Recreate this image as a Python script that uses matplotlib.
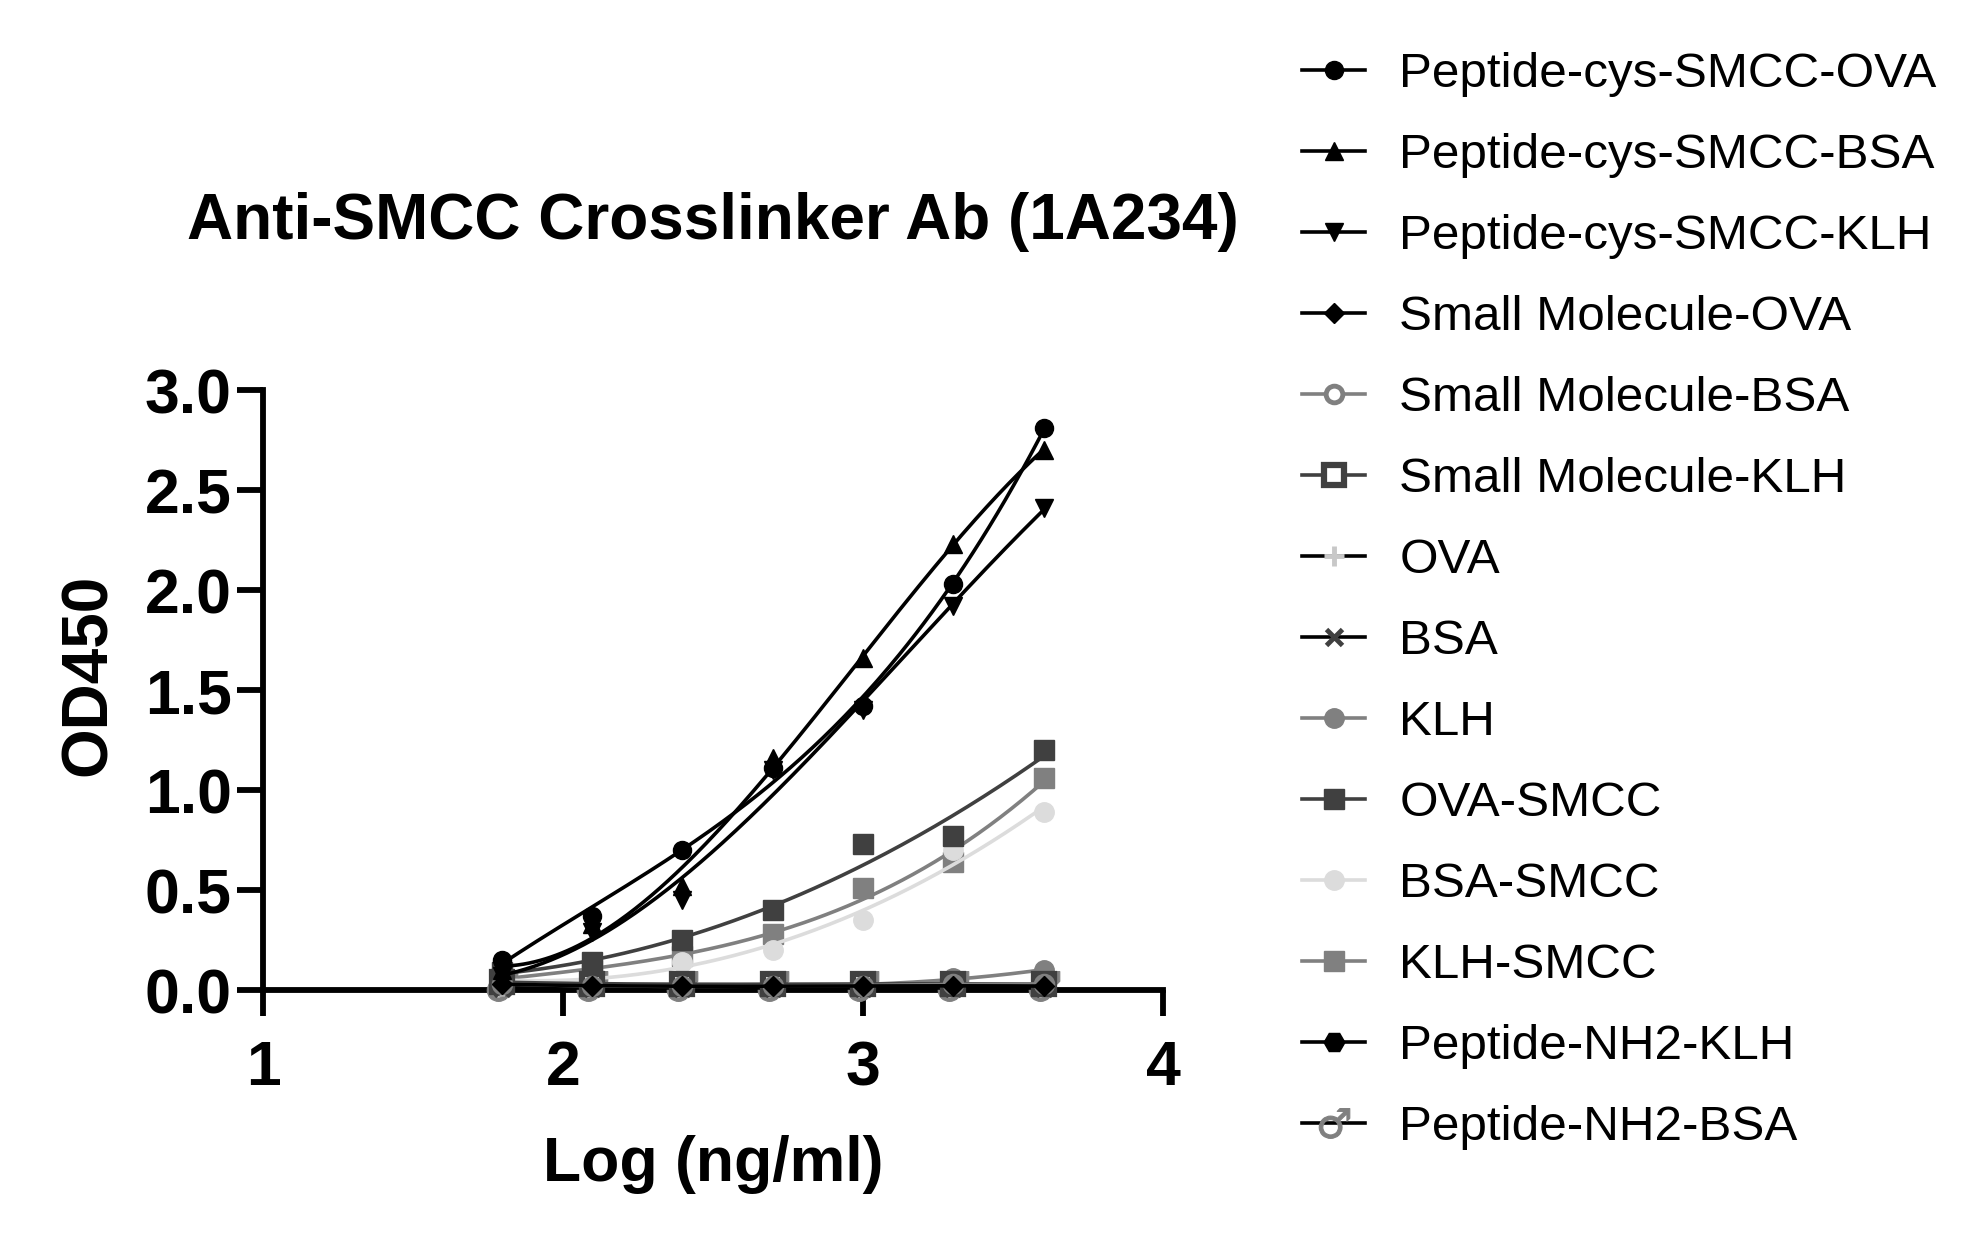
import numpy as np
import matplotlib
matplotlib.use("Agg")
import matplotlib.pyplot as plt
from matplotlib.lines import Line2D

plt.rcParams['font.family'] = ['Liberation Sans', 'DejaVu Sans']

# ---------------- data ----------------
concentration_ng_ml = [62.5, 125, 250, 500, 1000, 2000, 4000]
series_names = [
    "Peptide-cys-SMCC-OVA", "Peptide-cys-SMCC-BSA", "Peptide-cys-SMCC-KLH",
    "Small Molecule-OVA", "Small Molecule-BSA", "Small Molecule-KLH",
    "OVA", "BSA", "KLH", "OVA-SMCC", "BSA-SMCC", "KLH-SMCC",
    "Peptide-NH2-KLH", "Peptide-NH2-BSA",
]
pep_cys_smcc_ova = [0.15, 0.37, 0.70, 1.11, 1.42, 2.03, 2.81]
pep_cys_smcc_bsa = [0.10, 0.33, 0.52, 1.16, 1.66, 2.23, 2.70]
pep_cys_smcc_klh = [0.07, 0.29, 0.45, 1.10, 1.40, 1.92, 2.41]
small_mol_ova = [0.03, 0.02, 0.02, 0.02, 0.02, 0.02, 0.02]
small_mol_bsa = [0.03, 0.02, 0.02, 0.02, 0.02, 0.03, 0.03]
small_mol_klh = [0.04, 0.03, 0.03, 0.03, 0.03, 0.03, 0.03]
ova = [0.02, 0.02, 0.02, 0.02, 0.02, 0.02, 0.02]
bsa = [0.01, 0.01, 0.01, 0.01, 0.01, 0.01, 0.01]
klh = [0.02, 0.02, 0.02, 0.02, 0.02, 0.06, 0.10]
ova_smcc = [0.09, 0.14, 0.25, 0.40, 0.73, 0.77, 1.20]
bsa_smcc = [0.04, 0.07, 0.14, 0.20, 0.35, 0.70, 0.89]
klh_smcc = [0.06, 0.10, 0.17, 0.28, 0.51, 0.64, 1.06]
pep_nh2_klh = [0.02, 0.02, 0.02, 0.02, 0.02, 0.02, 0.02]
pep_nh2_bsa = [0.02, 0.02, 0.02, 0.02, 0.02, 0.02, 0.02]

all_values = [pep_cys_smcc_ova, pep_cys_smcc_bsa, pep_cys_smcc_klh,
              small_mol_ova, small_mol_bsa, small_mol_klh,
              ova, bsa, klh, ova_smcc, bsa_smcc, klh_smcc,
              pep_nh2_klh, pep_nh2_bsa]

x_ticks = [1, 2, 3, 4]
y_ticks = [0.0, 0.5, 1.0, 1.5, 2.0, 2.5, 3.0]

# ---------------- styles ----------------
DK = "#404040"
MG = "#808080"
LG = "#c8c8c8"
XLG = "#dcdcdc"
styles = [
    dict(marker='o', mfc='black', mec='black', ms=13, mew=1, lc='black'),
    dict(marker='^', mfc='black', mec='black', ms=13, mew=1, lc='black'),
    dict(marker='v', mfc='black', mec='black', ms=13, mew=1, lc='black'),
    dict(marker='D', mfc='black', mec='black', ms=10, mew=1, lc='black'),
    dict(marker='o', mfc='white', mec=MG, ms=12, mew=3.5, lc=MG),
    dict(marker='s', mfc='white', mec=DK, ms=14, mew=4.5, lc=DK),
    dict(marker='+', mfc=LG, mec=LG, ms=14, mew=3.5, lc='black'),
    dict(marker='x', mfc=DK, mec=DK, ms=12, mew=3.5, lc='black'),
    dict(marker='o', mfc=MG, mec=MG, ms=14, mew=1, lc=MG),
    dict(marker='s', mfc=DK, mec=DK, ms=15, mew=1, lc=DK),
    dict(marker='o', mfc=XLG, mec=XLG, ms=14, mew=1, lc=XLG),
    dict(marker='s', mfc=MG, mec=MG, ms=15, mew=1, lc=MG),
    dict(marker='H', mfc='black', mec='black', ms=15, mew=1, lc='black'),
    dict(marker='$\u2642$', mfc=MG, mec=MG, ms=22, mew=0.8, lc='black'),
]

fig = plt.figure(figsize=(19.72, 12.37), dpi=100)
ax = fig.add_axes([263/1972, 1-990/1237, 900/1972, 600/1237])

x = np.log10(np.array(concentration_ng_ml, dtype=float))
xfine = np.linspace(x.min(), x.max(), 200)

handles = []
for i, (name, vals, st) in enumerate(zip(series_names, all_values, styles)):
    y = np.array(vals, dtype=float)
    coef = np.polyfit(x, y, 3)
    base = 100 - 3*i
    ax.plot(xfine, np.polyval(coef, xfine), color=st['lc'], lw=2.6,
            zorder=base, clip_on=False, solid_capstyle='round')
    ax.plot(x, y, linestyle='none', marker=st['marker'], ms=st['ms'],
            mfc=st['mfc'], mec=st['mec'], mew=st['mew'],
            zorder=base+1, clip_on=False)
    handles.append(Line2D([], [], color=st['lc'], lw=2.6, marker=st['marker'],
                          ms=st['ms'], mfc=st['mfc'], mec=st['mec'], mew=st['mew'],
                          label=name))

ax.set_xlim(1, 4)
ax.set_ylim(0, 3)
ax.set_xticks(x_ticks)
ax.set_xticklabels([str(t) for t in x_ticks])
ax.set_yticks(y_ticks)
ax.set_yticklabels([f"{t:.1f}" for t in y_ticks])

for s in ['top', 'right']:
    ax.spines[s].set_visible(False)
for s in ['left', 'bottom']:
    ax.spines[s].set_linewidth(4.2)
    ax.spines[s].set_capstyle('projecting')

ax.tick_params(axis='both', direction='out', length=18.5, width=4.2,
               labelsize=45, colors='black')
ax.tick_params(axis='x', pad=17)
ax.tick_params(axis='y', pad=4)
for lab in ax.get_xticklabels() + ax.get_yticklabels():
    lab.set_fontweight('bold')

ax.set_xlabel("Log (ng/ml)", fontsize=45, fontweight='bold')
ax.xaxis.set_label_coords(0.5, -0.29)
ax.xaxis.label.set_verticalalignment('center')
ax.set_ylabel("OD450", fontsize=46, fontweight='bold')
ax.yaxis.set_label_coords(-0.193, 0.525)
ax.yaxis.label.set_verticalalignment('center')

ax.set_title("Anti-SMCC Crosslinker Ab (1A234)", fontsize=46, fontweight='bold',
             y=(990-230)/600, va='center')

fig.legend(handles=handles, loc='upper left',
           bbox_to_anchor=(1302/1972, 1-52/1237),
           frameon=False, fontsize=35.6, handlelength=1.28, handletextpad=0.69,
           labelspacing=0.728, borderpad=0, borderaxespad=0, markerscale=1.0)

fig.savefig("out.png", dpi=100)
